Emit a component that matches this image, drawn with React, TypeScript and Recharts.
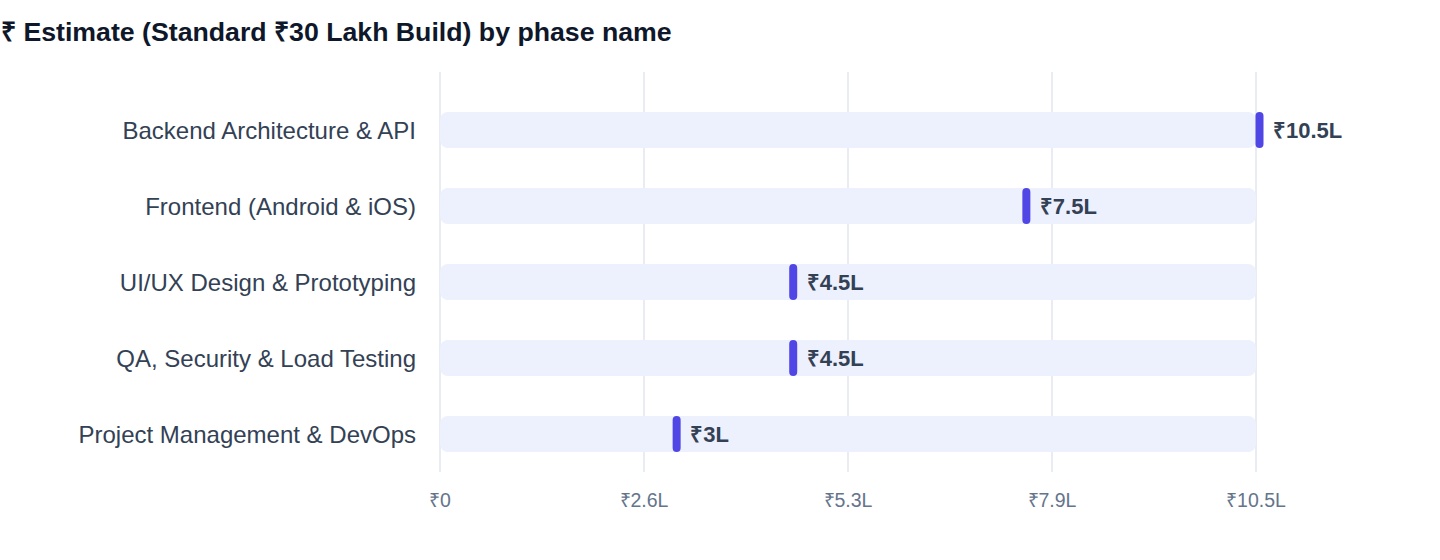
import { BarChart, Bar, XAxis, YAxis, CartesianGrid, LabelList } from "recharts";

const phases = [
  "Backend Architecture & API",
  "Frontend (Android & iOS)",
  "UI/UX Design & Prototyping",
  "QA, Security & Load Testing",
  "Project Management & DevOps",
];
const estimates = [10.5, 7.5, 4.5, 4.5, 3];
const xTicks = [0, 2.625, 5.25, 7.875, 10.5];
const xTickLabels = ["₹0", "₹2.6L", "₹5.3L", "₹7.9L", "₹10.5L"];

const data = phases.map((name, i) => ({ name, value: estimates[i] }));

const FONT = '"Liberation Sans", Arial, Helvetica, sans-serif';

function Marker(props: any) {
  const { x, y, width, height } = props;
  return (
    <rect
      x={x + width - 0.5}
      y={y}
      width={8}
      height={height}
      rx={4}
      ry={4}
      fill="#4F46E5"
    />
  );
}

export default function App() {
  return (
    <div
      style={{
        position: "absolute",
        left: 0,
        top: 0,
        width: 1440,
        height: 560,
        background: "#fff",
        fontFamily: FONT,
      }}
    >
      <div
        style={{
          position: "absolute",
          left: 1,
          top: 12,
          fontSize: 26.7,
          fontWeight: 700,
          color: "#0F172A",
          whiteSpace: "nowrap",
        }}
      >
        ₹ Estimate (Standard ₹30 Lakh Build) by phase name
      </div>
      <BarChart
        width={1440}
        height={560}
        data={data}
        layout="vertical"
        margin={{ top: 72, right: 184, bottom: 48, left: 0 }}
        barSize={36}
      >
        <CartesianGrid
          horizontal={false}
          stroke="#E2E6EE"
          strokeWidth={1.5}
        />
        <XAxis
          type="number"
          domain={[0, 10.5]}
          ticks={xTicks}
          tickFormatter={(v: number) => xTickLabels[xTicks.indexOf(v)]}
          axisLine={false}
          tickLine={false}
          tick={{ fill: "#64748B", fontSize: 19.5, fontFamily: FONT }}
          tickMargin={15}
          height={40}
        />
        <YAxis
          type="category"
          dataKey="name"
          width={440}
          axisLine={false}
          tickLine={false}
          padding={{ top: 20, bottom: 0 }}
          tick={{ fill: "#334155", fontSize: 24, fontFamily: FONT }}
          tickMargin={18}
        />
        <Bar
          dataKey="value"
          isAnimationActive={false}
          background={{ fill: "#EDF0FD", radius: 8 } as any}
          shape={<Marker />}
        >
          <LabelList
            dataKey="value"
            position="right"
            offset={17}
            formatter={(v: any) => `₹${v}L`}
            style={{ fill: "#334155", fontSize: 22, fontWeight: 700, fontFamily: FONT }}
          />
        </Bar>
      </BarChart>
    </div>
  );
}
